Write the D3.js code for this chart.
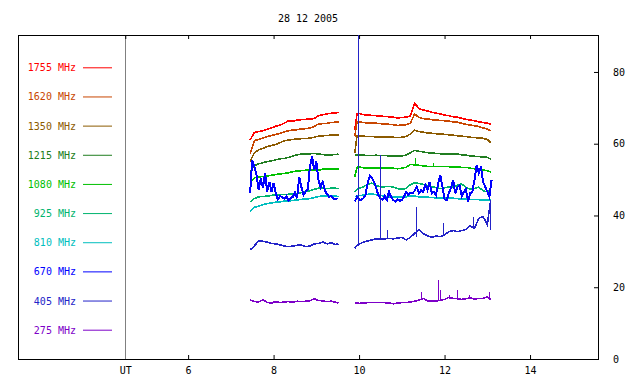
<!DOCTYPE html>
<html>
<head>
<meta charset="utf-8">
<script src="https://cdn.jsdelivr.net/npm/d3@7"></script>
<style>
  body { margin: 0; background: #fff; }
  text { font-family: "DejaVu Sans Mono", monospace; font-size: 10px; }
</style>
</head>
<body>
<div id="chart"></div>
<script>
// legend / series names, top to bottom
var freqs = ["1755", "1620", "1350", "1215", "1080", "925", "810", "670", "405", "275"];
var colors = ["#ff0000", "#c84600", "#8c5a00", "#207d20", "#00c000", "#00b46e", "#00bebe", "#0000ff", "#2323c8", "#7d00c8"];

var title = "28 12 2005";
var utHour = 4.53;
var xTicks = [4.53, 6, 8, 10, 12, 14];
var yTicks = [0, 20, 40, 60, 80];

// time grids (hours UT)
var t1 = [7.45, 7.55, 7.65, 7.75, 7.85, 7.95, 8.05, 8.15, 8.25, 8.35, 8.45, 8.55, 8.65, 8.75, 8.85, 8.95, 9.05, 9.15, 9.25, 9.35, 9.45, 9.52];
var t2 = [9.9, 9.95, 10.0, 10.1, 10.2, 10.3, 10.4, 10.5, 10.6, 10.7, 10.8, 10.9, 11.0, 11.1, 11.2, 11.3, 11.4, 11.5, 11.6, 11.7, 11.8, 11.9, 12.0, 12.1, 12.2, 12.3, 12.4, 12.5, 12.6, 12.7, 12.8, 12.9, 13.0, 13.08];
var t670a = [7.45, 7.5, 7.55, 7.6, 7.65, 7.7, 7.75, 7.8, 7.85, 7.9, 7.95, 8.0, 8.05, 8.1, 8.15, 8.2, 8.25, 8.3, 8.35, 8.4, 8.45, 8.5, 8.55, 8.6, 8.65, 8.7, 8.75, 8.8, 8.85, 8.9, 8.95, 9.0, 9.05, 9.1, 9.15, 9.2, 9.25, 9.3, 9.35, 9.4, 9.45, 9.5];
var t670b = [9.9, 9.95, 10.0, 10.05, 10.1, 10.15, 10.2, 10.25, 10.3, 10.35, 10.4, 10.45, 10.5, 10.55, 10.6, 10.65, 10.7, 10.75, 10.8, 10.85, 10.9, 10.95, 11.0, 11.05, 11.1, 11.15, 11.2, 11.25, 11.3, 11.35, 11.4, 11.45, 11.5, 11.55, 11.6, 11.65, 11.7, 11.75, 11.8, 11.85, 11.9, 11.95, 12.0, 12.05, 12.1, 12.15, 12.2, 12.25, 12.3, 12.35, 12.4, 12.45, 12.5, 12.55, 12.6, 12.65, 12.7, 12.75, 12.8, 12.85, 12.9, 12.95, 13.0, 13.05, 13.1];

// flux values, first and second block
var s1755a = [61.0, 63.1, 63.4, 63.6, 64.0, 64.4, 64.9, 65.2, 65.7, 66.4, 66.3, 66.6, 66.7, 66.8, 66.9, 67.0, 67.8, 68.1, 68.3, 68.5, 68.6, 68.7];
var s1755b = [63.8, 68.3, 68.5, 68.1, 68.0, 67.9, 67.8, 67.7, 67.6, 67.5, 67.4, 67.2, 67.3, 67.4, 67.7, 71.3, 69.8, 69.4, 69.1, 68.8, 68.5, 68.3, 68.0, 67.8, 67.5, 67.4, 67.1, 66.8, 66.6, 66.4, 66.1, 65.9, 65.7, 65.5];
var s1620a = [57.3, 60.9, 61.2, 61.6, 62.0, 62.3, 62.6, 62.9, 63.3, 63.6, 63.8, 63.9, 64.1, 64.2, 64.4, 64.8, 65.5, 65.6, 65.7, 65.9, 66.0, 66.1];
var s1620b = [62.0, 66.0, 66.1, 65.9, 65.8, 65.7, 65.7, 65.6, 65.5, 65.4, 65.3, 65.1, 65.2, 65.3, 65.7, 68.3, 67.3, 67.0, 66.9, 66.7, 66.6, 66.5, 66.4, 66.3, 66.1, 66.0, 65.7, 65.4, 65.2, 65.0, 64.8, 64.4, 64.1, 63.6];
var s1350a = [55.0, 57.5, 58.3, 58.7, 59.2, 59.5, 59.8, 60.3, 60.8, 61.0, 61.2, 61.3, 61.4, 61.4, 61.6, 61.8, 62.1, 62.2, 62.3, 62.4, 62.4, 62.5];
var s1350b = [57.3, 62.2, 62.2, 62.1, 62.0, 62.0, 61.9, 61.8, 61.8, 61.8, 61.8, 61.7, 61.8, 62.0, 62.7, 63.8, 63.4, 63.2, 63.0, 62.9, 62.8, 62.7, 62.6, 62.5, 62.4, 62.2, 62.1, 62.0, 61.8, 61.7, 61.6, 61.5, 61.2, 60.3];
var s1215a = [52.2, 53.9, 54.4, 54.7, 55.0, 55.2, 55.5, 55.8, 55.9, 56.2, 56.6, 56.9, 57.1, 57.1, 57.2, 57.3, 57.1, 57.0, 56.8, 56.9, 57.0, 57.1];
var s1215b = [56.8, 56.9, 56.8, 56.8, 56.7, 56.7, 56.8, 56.7, 56.7, 56.6, 56.6, 56.5, 56.6, 56.8, 57.5, 58.1, 57.9, 57.7, 57.5, 57.4, 57.3, 57.2, 57.2, 57.1, 57.1, 57.1, 56.9, 56.8, 56.6, 56.5, 56.4, 56.3, 56.2, 55.7];
var s1080a = [49.2, 50.5, 50.7, 50.9, 51.0, 51.2, 51.4, 51.6, 51.7, 51.9, 52.2, 52.4, 52.5, 52.6, 52.6, 52.7, 52.6, 52.9, 53.0, 52.9, 53.0, 52.9];
var s1080b = [50.8, 53.4, 53.5, 53.3, 53.2, 53.3, 53.2, 53.2, 53.2, 53.2, 53.2, 53.0, 53.2, 53.4, 54.2, 54.1, 54.0, 53.8, 53.7, 53.6, 53.7, 53.6, 53.6, 53.6, 53.5, 53.6, 53.4, 53.4, 53.2, 53.0, 52.9, 52.7, 52.5, 52.1];
var s925a = [43.8, 44.7, 45.2, 45.3, 45.4, 45.6, 45.7, 45.8, 45.9, 45.9, 46.0, 46.1, 46.4, 46.7, 46.9, 47.3, 47.6, 47.6, 47.5, 47.6, 47.6, 47.5];
var s925b = [46.6, 47.3, 47.6, 48.0, 48.7, 49.0, 48.4, 48.0, 48.0, 48.1, 47.9, 47.5, 47.3, 47.5, 48.6, 49.1, 48.9, 48.7, 48.4, 48.0, 47.8, 47.5, 47.7, 48.0, 47.9, 48.4, 48.8, 47.9, 47.3, 47.5, 47.9, 46.9, 46.6, 47.1];
var s810a = [41.1, 42.3, 42.6, 43.0, 43.3, 43.5, 43.7, 43.8, 44.0, 44.0, 44.2, 44.3, 44.5, 44.6, 44.7, 45.0, 45.3, 45.4, 45.4, 45.4, 45.4, 45.3];
var s810b = [45.2, 45.4, 45.5, 45.7, 45.9, 46.0, 45.8, 45.6, 45.4, 45.2, 45.2, 45.1, 45.1, 45.2, 45.4, 45.4, 45.2, 45.1, 45.1, 45.0, 44.9, 44.9, 44.8, 44.8, 44.8, 44.7, 44.6, 44.6, 44.5, 44.5, 44.4, 44.3, 44.3, 44.3];
var s670a = [46.2, 55.5, 53.6, 51.3, 47.1, 50.4, 47.6, 51.8, 46.6, 49.4, 46.6, 49.0, 46.2, 44.5, 45.4, 45.1, 44.7, 45.4, 44.1, 44.9, 45.2, 46.4, 44.8, 50.8, 47.9, 45.7, 46.6, 47.3, 53.6, 56.4, 52.7, 55.0, 49.9, 47.9, 49.4, 46.9, 46.0, 45.2, 45.4, 44.7, 44.5, 44.8];
var s670b = [43.9, 45.2, 44.5, 44.3, 44.8, 45.7, 49.0, 51.0, 50.4, 49.4, 47.6, 45.7, 44.8, 44.3, 45.4, 44.3, 46.6, 45.2, 44.3, 43.9, 44.5, 44.1, 44.3, 45.2, 46.6, 45.7, 46.4, 46.2, 46.9, 48.0, 46.2, 47.1, 46.6, 48.5, 47.1, 49.4, 46.2, 46.6, 45.7, 49.0, 51.3, 48.0, 44.5, 44.3, 46.2, 47.6, 49.9, 46.2, 47.9, 48.5, 45.4, 46.6, 47.3, 43.9, 46.2, 46.6, 49.9, 54.1, 51.8, 53.6, 49.4, 48.0, 46.6, 45.2, 49.9];
var s405a = [30.4, 31.5, 33.0, 32.8, 32.6, 32.2, 32.1, 31.8, 31.5, 31.3, 31.5, 31.7, 31.7, 31.3, 31.5, 32.1, 32.2, 32.6, 32.1, 32.4, 31.9, 32.1];
var s405b = [30.9, 31.6, 32.0, 32.6, 32.9, 33.2, 33.5, 33.4, 33.5, 33.6, 33.5, 33.7, 33.9, 33.2, 33.9, 35.0, 36.0, 35.0, 34.3, 33.9, 34.3, 34.1, 34.6, 35.5, 35.8, 35.5, 35.8, 36.1, 37.1, 36.4, 39.2, 39.7, 37.5, 44.3];
var s275a = [16.4, 16.0, 15.9, 16.5, 15.8, 15.6, 16.0, 15.7, 15.9, 16.0, 15.8, 16.1, 16.0, 16.1, 16.2, 16.8, 16.3, 16.2, 16.0, 16.1, 15.8, 15.6];
var s275b = [15.7, 15.6, 15.5, 15.6, 15.7, 15.7, 15.8, 15.7, 15.7, 15.6, 15.4, 15.6, 15.7, 15.7, 15.9, 16.1, 16.4, 16.9, 16.2, 16.1, 16.1, 16.4, 16.6, 17.2, 16.9, 16.8, 16.6, 16.8, 17.0, 16.7, 16.9, 16.9, 17.3, 16.6];

// short spikes: [hour, base, peak]
var spikes1080 = [[11.32, 54.1, 55.9], [11.74, 53.6, 54.7]];
var spikes405 = [[9.98, 32.0, 90.3], [10.48, 33.4, 56.9], [10.66, 33.5, 36.0], [11.33, 34.0, 42.5], [11.96, 34.6, 37.8], [12.67, 36.4, 39.7], [13.06, 36.0, 44.3]];
var spikes275 = [[11.46, 16.6, 18.8], [11.85, 16.2, 22.0], [11.89, 16.4, 19.2], [12.1, 16.8, 17.8], [12.28, 16.8, 19.2], [12.58, 16.9, 17.8], [13.04, 17.0, 18.8]];

var series = [
  {parts: [[t1, s1755a], [t2, s1755b]], spikes: []},
  {parts: [[t1, s1620a], [t2, s1620b]], spikes: []},
  {parts: [[t1, s1350a], [t2, s1350b]], spikes: []},
  {parts: [[t1, s1215a], [t2, s1215b]], spikes: []},
  {parts: [[t1, s1080a], [t2, s1080b]], spikes: spikes1080},
  {parts: [[t1, s925a], [t2, s925b]], spikes: []},
  {parts: [[t1, s810a], [t2, s810b]], spikes: []},
  {parts: [[t670a, s670a], [t670b, s670b]], spikes: []},
  {parts: [[t1, s405a], [t2, s405b]], spikes: spikes405},
  {parts: [[t1, s275a], [t2, s275b]], spikes: spikes275}
];

var width = 640, height = 384;

var svg = d3.select("#chart").append("svg")
    .attr("width", width)
    .attr("height", height);

var xScale = d3.scaleLinear().domain([2.02, 15.59]).range([18, 598]);
var yScale = d3.scaleLinear().domain([0, 90.3]).range([359, 35]);
var legendY = d3.scaleLinear().domain([0, freqs.length - 1]).range([67.3, 329.7]);

// title
svg.append("text")
    .attr("x", 308)
    .attr("y", 22)
    .attr("text-anchor", "middle")
    .text(title);

// UT separator
var ux = Math.round(xScale(utHour)) + 0.5;
svg.append("line")
    .attr("x1", ux).attr("x2", ux)
    .attr("y1", 35).attr("y2", 359)
    .attr("stroke", "#808080");

// axes
var axBottom = svg.append("g")
    .attr("transform", "translate(0,359)")
    .call(d3.axisBottom(xScale).tickValues(xTicks).tickSize(-4).tickPadding(8)
        .tickFormat(function(d) { return d === utHour ? "UT" : d; }));
var axTop = svg.append("g")
    .attr("transform", "translate(0,35)")
    .call(d3.axisTop(xScale).tickValues(xTicks).tickSize(-4).tickFormat(""));
var axRight = svg.append("g")
    .attr("transform", "translate(598,0)")
    .call(d3.axisRight(yScale).tickValues(yTicks).tickSize(-4).tickPadding(15));

[axBottom, axTop, axRight].forEach(function(g) {
  g.select(".domain").remove();
  g.attr("font-family", null).attr("font-size", null);
  g.selectAll("line").attr("stroke", "#000");
  g.selectAll("text").attr("fill", "#000");
});
axBottom.selectAll(".tick").filter(function(d) { return d === utHour; }).select("line").remove();

// frame
svg.append("rect")
    .attr("x", 18.5).attr("y", 35.5)
    .attr("width", 580).attr("height", 324)
    .attr("fill", "none")
    .attr("stroke", "#000");

// legend
var legend = svg.selectAll(".legend")
    .data(freqs)
  .enter().append("g")
    .attr("class", "legend")
    .attr("transform", function(d, i) { return "translate(0," + legendY(i) + ")"; });

legend.append("text")
    .attr("x", 76)
    .attr("y", 4)
    .attr("text-anchor", "end")
    .attr("fill", function(d, i) { return colors[i]; })
    .text(function(d) { return d + " MHz"; });

legend.append("line")
    .attr("x1", 83).attr("x2", 112)
    .attr("y1", 0.5).attr("y2", 0.5)
    .attr("stroke", function(d, i) { return colors[i]; });

// data lines
var line = d3.line()
    .x(function(d) { return xScale(d[0]); })
    .y(function(d) { return yScale(d[1]); });

series.forEach(function(s, i) {
  s.parts.forEach(function(p) {
    var pts = p[0].map(function(t, j) { return [t, p[1][j]]; });
    svg.append("path")
        .datum(pts)
        .attr("fill", "none")
        .attr("stroke", colors[i])
        .attr("stroke-width", i === 7 ? 2 : 1.6)
        .attr("shape-rendering", "crispEdges")
        .attr("d", line);
  });
  svg.selectAll(null)
      .data(s.spikes)
    .enter().append("line")
      .attr("x1", function(d) { return Math.round(xScale(d[0])) + 0.5; })
      .attr("x2", function(d) { return Math.round(xScale(d[0])) + 0.5; })
      .attr("y1", function(d) { return yScale(d[1]); })
      .attr("y2", function(d) { return yScale(d[2]); })
      .attr("stroke", colors[i])
      .attr("stroke-width", 1)
      .attr("shape-rendering", "crispEdges");
});
</script>
</body>
</html>
